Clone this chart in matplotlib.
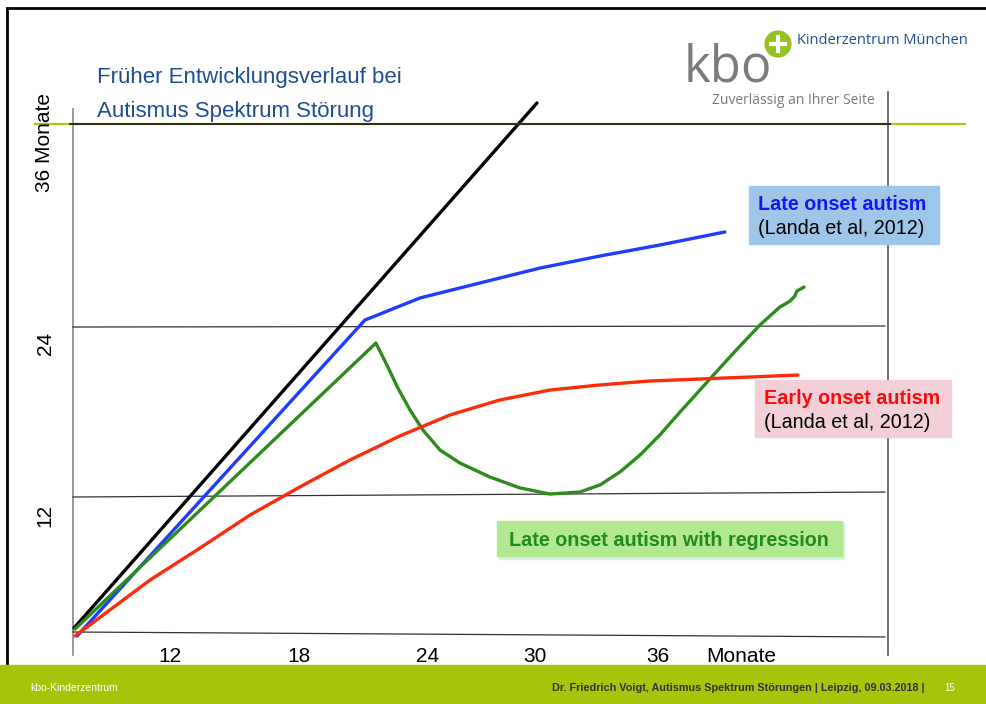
import matplotlib
matplotlib.use("Agg")
import matplotlib.pyplot as plt
from matplotlib.lines import Line2D
from matplotlib.patches import Rectangle, Ellipse

plt.rcParams["font.family"] = ["Liberation Sans", "DejaVu Sans"]

# age in months (x) / developmental level (y)
black_x = [7.28, 30.05]
black_y = [2.75, 39.81]

blue_x = [7.43, 21.59, 24.30, 27.25, 30.20, 33.15, 36.10, 39.30]
blue_y = [2.19, 24.49, 26.05, 27.11, 28.16, 29.01, 29.79, 30.71]

green_x = [7.33, 22.13, 22.67, 23.21, 23.81, 24.44, 25.28, 26.26, 27.74, 29.22, 30.69,
           32.17, 33.15, 34.13, 35.12, 36.10, 37.09, 38.07, 39.05, 40.04, 41.02,
           42.00, 42.50, 42.74, 42.84, 43.19]
green_y = [2.68, 22.87, 21.32, 19.69, 18.14, 16.73, 15.32, 14.40, 13.41, 12.64, 12.21,
           12.35, 12.85, 13.76, 14.96, 16.38, 18.00, 19.55, 21.11, 22.66, 24.14,
           25.41, 25.83, 26.19, 26.54, 26.82]

red_x = [7.33, 11.02, 13.48, 15.94, 18.39, 20.85, 23.31, 25.77, 28.23, 30.69, 33.15,
         35.61, 38.07, 40.53, 42.89]
red_y = [2.19, 6.14, 8.40, 10.73, 12.71, 14.61, 16.31, 17.79, 18.85, 19.55, 19.91,
         20.19, 20.33, 20.47, 20.61]

# hand drawn guide lines (left end / right end)
grid_y_left = [2.47, 12.0, 24.0]
grid_y_right = [2.12, 12.35, 24.07]

x_tick_labels = ["12", "18", "24", "30", "36"]
x_tick_px = [170, 299, 428, 535, 658]

X_MIN, X_MAX = 7.23, 47.32
Y_MIN, Y_MAX = 2.40, 38.33

W, H = 986, 704


def fx(px):
    return px / W


def fy(py):
    return 1 - py / H


fig = plt.figure(figsize=(W / 100, H / 100), dpi=100)

# slide frame and footer
fig.add_artist(Rectangle((fx(7), fy(700)), fx(990) - fx(7), fy(8) - fy(700),
                         transform=fig.transFigure, fill=False, ec="black", lw=2))
fig.add_artist(Rectangle((0, 0), 1, 39 / H, transform=fig.transFigure,
                         color="#a6c40a", zorder=5))
fig.text(fx(30), fy(688), "kbo-Kinderzentrum", color="white", fontsize=7.5,
         va="center", zorder=6)
fig.text(fx(925), fy(688), "Dr. Friedrich Voigt, Autismus Spektrum Störungen | Leipzig, 09.03.2018 |",
         color="#333333", fontsize=7.8, fontweight="bold", ha="right", va="center", zorder=6)
fig.text(fx(950), fy(688), "15", color="white", fontsize=7, ha="center", va="center", zorder=6)

# header line
fig.add_artist(Line2D([fx(35), fx(965)], [fy(124), fy(124)], transform=fig.transFigure,
                      color="#a9c70c", lw=1.6))
fig.add_artist(Line2D([fx(70), fx(890)], [fy(124), fy(124)], transform=fig.transFigure,
                      color="#2c2c14", lw=1.4))

# title
fig.text(fx(97), fy(78), "Früher Entwicklungsverlauf bei", color="#1f4e96",
         fontsize=16, va="center")
fig.text(fx(97), fy(111), "Autismus Spektrum Störung", color="#1f4e96",
         fontsize=16, va="center")

# logo
fig.text(fx(684), fy(82), "kbo", color="#7b7b7b", fontsize=36.5, family="Open Sans",
         va="baseline")
fig.add_artist(Ellipse((fx(778), fy(44)), 30 / W, 30 / H, transform=fig.transFigure,
                       fc="#97c11f", ec="white", lw=2))
fig.add_artist(Line2D([fx(771), fx(785)], [fy(44), fy(44)], transform=fig.transFigure,
                      color="white", lw=3))
fig.add_artist(Line2D([fx(778), fx(778)], [fy(37), fy(51)], transform=fig.transFigure,
                      color="white", lw=3))
fig.text(fx(797), fy(41), "Kinderzentrum München", color="#1f4e96", fontsize=10.5,
         family="Open Sans", va="center")
fig.text(fx(712), fy(100), "Zuverlässig an Ihrer Seite", color="#7b7b7b", fontsize=10,
         family="Open Sans", va="center")

# chart area
ax = fig.add_axes([fx(73), fy(633), fx(888) - fx(73), fy(124) - fy(633)])
ax.set_xlim(X_MIN, X_MAX)
ax.set_ylim(Y_MIN, Y_MAX)
ax.axis("off")

ax.axvline(X_MIN, ymin=-0.043, ymax=1.029, color="#888888", lw=1.2, clip_on=False)
ax.axvline(X_MAX, ymin=-0.043, ymax=1.063, color="#555555", lw=1.2, clip_on=False)
for yl, yr in zip(grid_y_left, grid_y_right):
    ax.plot([X_MIN, X_MAX - 0.15], [yl, yr], color="#333333", lw=0.9, clip_on=False)

ax.plot(black_x, black_y, color="black", lw=2.4, clip_on=False, solid_capstyle="round")
ax.plot(blue_x, blue_y, color="#1f3cff", lw=2.4, clip_on=False, solid_capstyle="round")
ax.plot(green_x, green_y, color="#2e8b1e", lw=2.4, clip_on=False, solid_capstyle="round",
        solid_joinstyle="round")
ax.plot(red_x, red_y, color="#ff2a0a", lw=2.4, clip_on=False, solid_capstyle="round",
        solid_joinstyle="round")

# tick labels
for px, lab in zip(x_tick_px, x_tick_labels):
    fig.text(fx(px), fy(656), lab, fontsize=15, ha="center", va="center")
fig.text(fx(741), fy(656), "Monate", fontsize=15, ha="center", va="center")
fig.text(fx(45), fy(515), "12", fontsize=15, rotation=90, ha="center", va="center")
fig.text(fx(45), fy(343), "24", fontsize=15, rotation=90, ha="center", va="center")
fig.text(fx(45), fy(142), "36 Monate", fontsize=15, rotation=90, ha="center", va="center")

# labels
fig.add_artist(Rectangle((fx(749), fy(244)), fx(939) - fx(749), fy(186) - fy(244),
                         transform=fig.transFigure, color="#9dc6e8", zorder=3))
fig.text(fx(758), fy(204), "Late onset autism", color="#1515f5", fontsize=14.2,
         fontweight="bold", va="center", zorder=4)
fig.text(fx(758), fy(228), "(Landa et al, 2012)", color="black", fontsize=14.2,
         va="center", zorder=4)

fig.add_artist(Rectangle((fx(755), fy(437)), fx(951) - fx(755), fy(380) - fy(437),
                         transform=fig.transFigure, color="#f3d0d8", zorder=3))
fig.text(fx(764), fy(398), "Early onset autism", color="#ff0a0a", fontsize=14.2,
         fontweight="bold", va="center", zorder=4)
fig.text(fx(764), fy(423), "(Landa et al, 2012)", color="black", fontsize=14.2,
         va="center", zorder=4)

fig.add_artist(Rectangle((fx(499), fy(559)), fx(844) - fx(499), fy(523) - fy(559),
                         transform=fig.transFigure, color="#d6f2e2", zorder=2))
fig.add_artist(Rectangle((fx(497), fy(556)), fx(842) - fx(497), fy(521) - fy(556),
                         transform=fig.transFigure, color="#b2e890", zorder=3))
fig.text(fx(669), fy(540), "Late onset autism with regression", color="#228a1e",
         fontsize=14.2, fontweight="bold", ha="center", va="center", zorder=4)

fig.savefig("out.png", dpi=100)
